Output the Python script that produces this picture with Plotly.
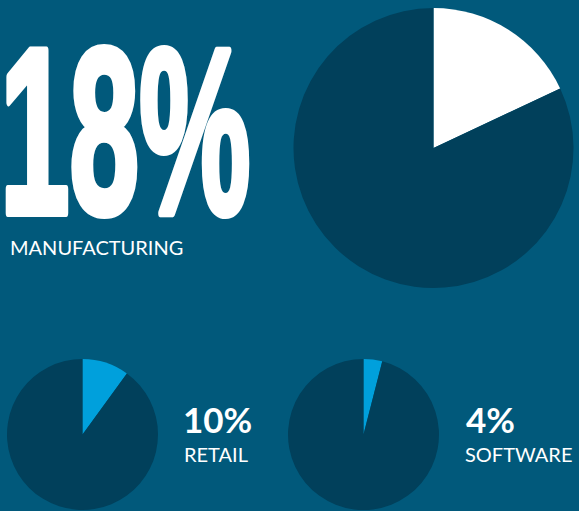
import plotly.graph_objects as go

W, H = 579, 511

# Share of each sector (percent) and the remainder of each pie
sectors = ["Manufacturing", "Retail", "Software"]
shares = [18, 10, 4]
labels_pct = ["18%", "10%", "4%"]
labels_name = ["MANUFACTURING", "RETAIL", "SOFTWARE"]

BG = "#01597b"
DARK = "#01405b"
WHITE = "#ffffff"
ACCENT = "#00a0dc"


def px_x(x):
    return x / W


def px_y(y):
    return 1 - y / H


def pie_domain(cx, cy, r):
    return dict(x=[px_x(cx - r), px_x(cx + r)], y=[px_y(cy + r), px_y(cy - r)])


pie_geom = [(433.5, 148, 140), (82.5, 434.5, 75.5), (363.5, 434.5, 75.5)]
slice_colors = [WHITE, ACCENT, ACCENT]

fig = go.Figure()
for name, share, (cx, cy, r), col in zip(sectors, shares, pie_geom, slice_colors):
    fig.add_trace(go.Pie(
        labels=[name, "Other"],
        values=[share, 100 - share],
        marker=dict(colors=[col, DARK], line=dict(width=0)),
        sort=False,
        direction="clockwise",
        rotation=0,
        textinfo="none",
        hoverinfo="skip",
        showlegend=False,
        domain=pie_domain(cx, cy, r),
    ))


def label(text, x_left, baseline, size, weight, descent, family="Lato"):
    return dict(
        text=text, xref="paper", yref="paper",
        x=px_x(x_left), y=px_y(baseline + descent * size),
        xanchor="left", yanchor="bottom", showarrow=False,
        borderpad=0, borderwidth=0,
        font=dict(family=family, size=size, color=WHITE, weight=weight),
    )


annotations = [
    label(labels_pct[0], 0, 213, 236, 700, 0.212, family="Liberation Sans"),
    label(labels_name[0], 10, 255, 20, 400, 0.213),
    label(labels_pct[1], 183, 433, 35, 700, 0.213),
    label(labels_name[1], 184, 462, 20, 400, 0.213),
    label(labels_pct[2], 466, 433, 35, 700, 0.213),
    label(labels_name[2], 465, 462, 20, 400, 0.213),
]

fig.update_layout(
    width=W, height=H,
    margin=dict(l=0, r=0, t=0, b=0),
    paper_bgcolor=BG, plot_bgcolor=BG,
    annotations=annotations,
)

# The headline figure is set in a tall, heavy condensed style:
# squeeze it horizontally and thicken the strokes
post = """
var s = document.createElement('style');
s.textContent = 'g.annotation[data-index="0"] text.annotation-text {' +
  'transform-box: fill-box; transform-origin: 0 0; transform: scaleX(0.53);' +
  'stroke: #ffffff; stroke-width: 8px; stroke-linejoin: round;}';
document.head.appendChild(s);
"""

fig.write_html("out.html", post_script=post, config={"displayModeBar": False})
